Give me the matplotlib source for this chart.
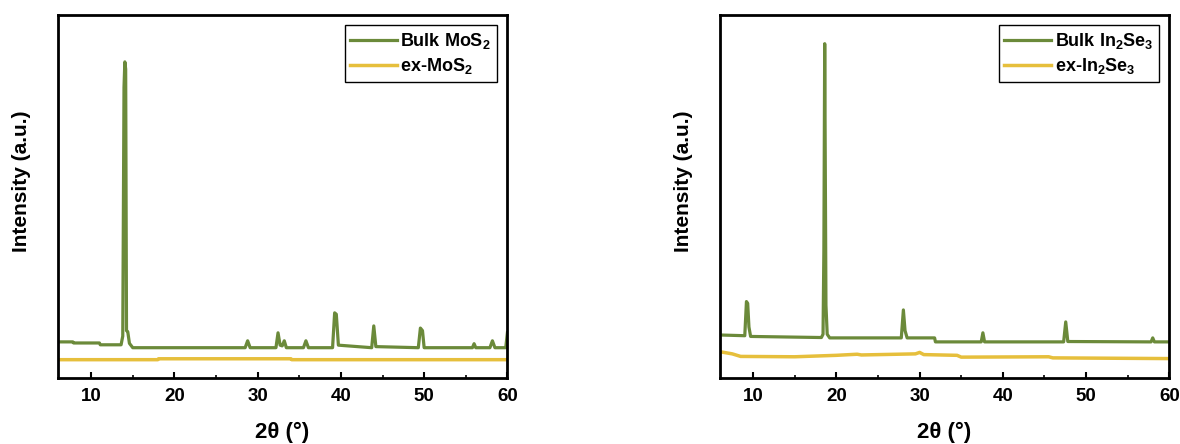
import matplotlib
matplotlib.use("Agg")
import matplotlib.pyplot as plt
from matplotlib.ticker import MultipleLocator

plt.rcParams["font.family"] = ["Liberation Sans", "DejaVu Sans"]
plt.rcParams["font.weight"] = "bold"
plt.rcParams["mathtext.fontset"] = "custom"
plt.rcParams["mathtext.rm"] = "Liberation Sans:bold"
plt.rcParams["mathtext.bf"] = "Liberation Sans:bold"

GREEN = "#6b8a3a"
YELLOW = "#e6bf3c"

# bulk MoS2 pattern, (2theta, intensity) points
mos2_bulk_x = [6.0, 7.8, 7.9, 11.0, 11.1, 13.6, 13.8, 13.95, 14.05, 14.15, 14.25, 14.4, 14.6, 15.0,
               28.5, 28.8, 29.1, 32.2, 32.45, 32.7, 32.95, 33.2, 33.45, 35.5, 35.8, 36.1,
               39.0, 39.25, 39.45, 39.7, 43.7, 43.95, 44.2, 49.3, 49.55, 49.8, 50.0,
               55.8, 56.0, 56.2, 57.9, 58.2, 58.5, 59.8, 60.0]
mos2_bulk_y = [9.9, 9.9, 9.6, 9.6, 9.1, 9.1, 11.5, 80.0, 87.0, 85.0, 13.0, 12.7, 9.5, 8.3,
               8.3, 10.2, 8.3, 8.3, 12.4, 9.0, 8.8, 10.2, 8.3, 8.3, 10.2, 8.3,
               8.3, 17.9, 17.5, 9.0, 8.3, 14.3, 8.6, 8.3, 13.7, 13.0, 8.3,
               8.3, 9.4, 8.3, 8.3, 10.2, 8.3, 8.3, 12.4]

# exfoliated MoS2
mos2_ex_x = [6.0, 18.0, 18.1, 34.0, 34.1, 60.0]
mos2_ex_y = [5.0, 5.0, 5.25, 5.25, 5.0, 5.0]

# bulk In2Se3
in2se3_bulk_x = [6.0, 9.0, 9.2, 9.35, 9.5, 9.7, 18.2, 18.4, 18.5, 18.6, 18.75, 18.9, 19.2,
                 27.8, 28.05, 28.25, 28.5, 31.8, 31.9, 37.4, 37.6, 37.8,
                 47.3, 47.55, 47.8, 57.8, 58.0, 58.2, 60.0]
in2se3_bulk_y = [11.8, 11.6, 21.0, 20.5, 14.0, 11.4, 11.1, 12.0, 35.0, 92.0, 20.0, 12.0, 11.0,
                 11.0, 18.7, 13.0, 11.0, 11.0, 9.9, 9.9, 12.4, 9.9,
                 9.9, 15.4, 10.0, 9.9, 11.0, 9.9, 9.9]

# exfoliated In2Se3
in2se3_ex_x = [6.0, 7.5, 8.5, 15.0, 20.0, 22.5, 23.0, 29.5, 30.0, 30.5, 34.5, 35.0, 45.5, 46.0, 60.0]
in2se3_ex_y = [7.2, 6.6, 5.9, 5.8, 6.2, 6.5, 6.3, 6.6, 7.0, 6.4, 6.2, 5.7, 5.8, 5.5, 5.3]

xticks = [10, 20, 30, 40, 50, 60]

fig = plt.figure(figsize=(11.8, 4.44), dpi=100)
ax1 = fig.add_axes([0.049, 0.149, 0.381, 0.818])
ax2 = fig.add_axes([0.610, 0.149, 0.381, 0.818])

panels = [
    (ax1, mos2_bulk_x, mos2_bulk_y, mos2_ex_x, mos2_ex_y, "Bulk MoS$_2$", "ex-MoS$_2$"),
    (ax2, in2se3_bulk_x, in2se3_bulk_y, in2se3_ex_x, in2se3_ex_y,
     "Bulk In$_2$Se$_3$", "ex-In$_2$Se$_3$"),
]

for ax, bx, by, ex, ey, lab_b, lab_e in panels:
    ax.plot(bx, by, color=GREEN, lw=2.3, label=lab_b)
    ax.plot(ex, ey, color=YELLOW, lw=2.5, label=lab_e)
    ax.set_xlim(6, 60)
    ax.set_ylim(0, 100)
    ax.set_xticks(xticks)
    ax.xaxis.set_minor_locator(MultipleLocator(5))
    ax.set_yticks([])
    ax.tick_params(axis="x", which="major", direction="in", length=4, width=1.5,
                   labelsize=13.5, pad=7)
    ax.tick_params(axis="x", which="minor", direction="in", length=2.5, width=1.2)
    for lbl in ax.get_xticklabels():
        lbl.set_fontweight("bold")
    for sp in ax.spines.values():
        sp.set_linewidth(2.0)
    ax.set_xlabel("2θ (°)", fontsize=16, fontweight="bold")
    ax.xaxis.set_label_coords(0.5, -0.12)
    ax.set_ylabel("Intensity (a.u.)", fontsize=15, fontweight="bold")
    ax.yaxis.set_label_coords(-0.06, 0.54)
    leg = ax.legend(loc="upper right", fontsize=13, handlelength=2.6, handletextpad=0.2,
                    borderpad=0.3, labelspacing=0.3, fancybox=False, framealpha=1,
                    edgecolor="black", borderaxespad=0.6)
    leg.get_frame().set_linewidth(1.0)

fig.savefig("out.png", dpi=100)
